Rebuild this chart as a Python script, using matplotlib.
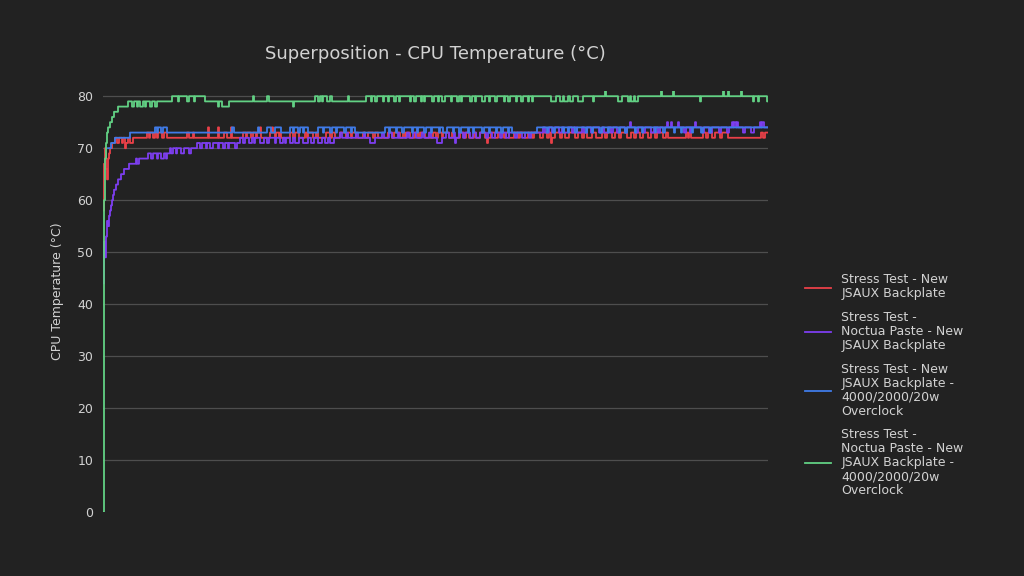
import numpy as np
import matplotlib
matplotlib.use('Agg')
import matplotlib.pyplot as plt

# number of samples along the run (one per pixel column of the plot)
N = 666

# each series written as runs of (temperature, number of samples)
red_runs = [(58, 1), (67, 1), (70, 1), (66, 1), (64, 1), (68, 1), (69, 1), (70, 2), (71, 3),
            (72, 2), (71, 2), (72, 3), (71, 1), (72, 2), (70, 1), (71, 2), (72, 2), (71, 3),
            (72, 14),
            (73, 2), (72, 1), (73, 3), (72, 2), (73, 2), (72, 1), (73, 4), (72, 2), (73, 3),
            (72, 20), (73, 2), (72, 4), (73, 1), (72, 14),
            (74, 1), (72, 9), (74, 1), (72, 5), (73, 3), (72, 4), (74, 1), (72, 11),
            (73, 3), (72, 1), (73, 4), (72, 2), (73, 3), (72, 1), (73, 3),
            (74, 1), (72, 9), (73, 2), (74, 1), (73, 2), (72, 1), (73, 3), (72, 1), (73, 1), (72, 9),
            (73, 3), (72, 2), (73, 4), (72, 6), (73, 2), (72, 1), (73, 5), (72, 3), (73, 2), (72, 8),
            (73, 4), (72, 2), (73, 3), (72, 5), (73, 6), (72, 2), (73, 3), (72, 1), (73, 4), (72, 7),
            (73, 2), (72, 3), (73, 5), (72, 2), (73, 3), (72, 10), (73, 4), (72, 2), (73, 6), (72, 3),
            (73, 2), (72, 1), (73, 4), (72, 5), (73, 3), (72, 2), (73, 5), (72, 8), (73, 3), (72, 2),
            (73, 4), (72, 1), (73, 6), (72, 3), (73, 2), (72, 6), (73, 4), (72, 2), (73, 3), (72, 5),
            (73, 2), (72, 4), (73, 5), (72, 2), (71, 1), (72, 3),
            (73, 4), (72, 3), (73, 6), (72, 2), (73, 3), (72, 5), (73, 4), (72, 2), (73, 5), (72, 3),
            (73, 4), (72, 2), (73, 6),
            (72, 3), (73, 4), (72, 2), (73, 2), (71, 1), (72, 3), (73, 5), (72, 2), (73, 3), (72, 4),
            (73, 6), (72, 3), (73, 4), (72, 2), (73, 3), (72, 5), (73, 4), (72, 6), (73, 3), (72, 2),
            (73, 5), (72, 3), (73, 4), (72, 2), (73, 6), (72, 4), (73, 3), (72, 2), (73, 4), (72, 3),
            (73, 5), (72, 3), (73, 4), (72, 2), (73, 6), (72, 3), (73, 2),
            (72, 18), (73, 2), (72, 1), (73, 2), (72, 12),
            (73, 3), (72, 2), (73, 4), (72, 3), (73, 5), (72, 2), (73, 6),
            (72, 33), (73, 2), (72, 2), (73, 4), (72, 1), (73, 3), (72, 10)]

purple_runs = [(44, 1), (52, 1), (49, 1), (53, 1), (56, 1), (55, 1), (57, 1), (58, 1), (59, 1),
               (60, 1), (61, 1), (62, 2), (63, 2), (64, 3), (65, 3), (66, 5), (67, 7),
               (68, 1), (67, 2), (68, 3), (68, 6),
               (69, 3), (68, 2), (69, 4), (68, 1), (69, 3), (68, 3), (69, 2), (68, 1), (69, 3),
               (70, 1), (69, 2), (70, 3), (69, 1), (70, 4), (69, 3), (70, 5), (69, 2), (70, 6),
               (71, 3), (70, 2), (71, 4), (70, 1), (71, 3), (70, 3), (71, 5), (70, 1), (71, 4),
               (70, 2), (71, 3), (70, 1), (71, 6), (70, 2), (71, 3),
               (72, 3), (71, 2), (72, 4), (71, 3), (72, 2), (71, 1), (72, 5), (71, 4), (72, 3),
               (71, 2), (72, 6), (71, 1), (72, 4), (71, 3), (72, 2), (71, 1), (72, 4),
               (71, 3), (72, 2), (71, 4), (72, 4), (71, 5), (72, 3), (71, 3), (72, 4), (71, 4),
               (72, 3), (71, 3), (72, 2), (71, 4),
               (72, 6), (73, 2), (72, 5), (73, 1), (72, 8), (73, 2), (72, 6), (73, 1), (72, 5),
               (71, 5),
               (72, 7), (73, 2), (72, 5), (73, 3), (72, 6), (73, 1), (72, 8), (73, 2), (72, 4),
               (73, 3), (72, 6), (73, 2), (72, 5), (73, 2), (72, 6),
               (71, 5), (72, 4), (73, 3), (72, 5), (73, 1), (71, 1),
               (72, 3), (73, 4), (72, 2), (73, 5), (72, 3), (73, 3), (72, 4), (73, 6), (72, 2),
               (73, 4), (72, 3), (73, 5), (72, 2), (73, 4), (72, 3), (73, 6), (72, 2), (73, 5),
               (72, 3), (73, 4), (72, 2), (73, 5), (73, 4),
               (73, 3), (74, 2), (73, 4), (74, 3), (73, 2), (74, 5), (73, 3), (74, 2), (73, 4),
               (74, 4), (73, 2), (74, 3), (73, 5), (74, 2), (73, 3), (74, 4), (73, 2), (74, 6),
               (73, 3), (74, 2), (73, 4), (74, 3), (73, 2), (74, 4), (73, 3), (74, 5), (73, 2),
               (74, 3), (75, 1),
               (74, 4), (73, 3), (74, 5), (73, 2), (74, 6), (73, 3), (74, 4), (73, 2), (74, 7),
               (75, 1), (74, 3), (75, 1), (74, 6), (75, 1),
               (74, 5), (73, 2), (74, 4), (73, 1), (74, 4), (75, 1),
               (74, 6), (73, 2), (74, 5), (73, 3), (74, 7), (73, 2), (74, 6), (73, 2), (74, 3),
               (75, 1), (74, 1), (75, 2), (74, 1), (75, 1),
               (74, 5), (73, 2), (74, 6), (73, 3), (74, 6), (75, 1), (74, 1), (75, 2), (74, 5)]

blue_runs = [(np.nan, 5), (70, 3), (71, 4), (72, 15), (73, 25),
             (74, 2), (73, 1), (74, 3), (73, 2), (74, 4),
             (73, 65), (74, 2), (73, 24), (74, 1), (73, 8), (74, 4), (73, 4), (74, 6), (73, 9),
             (74, 3), (73, 1), (74, 4), (73, 2), (74, 3), (73, 1), (74, 4),
             (73, 10),
             (74, 5), (73, 1), (74, 6), (73, 2), (74, 4), (73, 1), (74, 7), (73, 2), (74, 5),
             (73, 1), (74, 3),
             (73, 30),
             (74, 4), (73, 1), (74, 6), (73, 1), (74, 5), (73, 2), (74, 8), (73, 1), (74, 4),
             (73, 1), (74, 6), (73, 2), (74, 5), (73, 1), (74, 7), (73, 1), (74, 3),
             (73, 4),
             (74, 6), (73, 1), (74, 5), (73, 2), (74, 7), (73, 1), (74, 4), (73, 1), (74, 8),
             (73, 2), (74, 5), (73, 1), (74, 6), (73, 1), (74, 4), (73, 2), (74, 5), (73, 1),
             (74, 3),
             (73, 25), (74, 3),
             (74, 7), (73, 1), (74, 5), (73, 2), (74, 8), (73, 1), (74, 4), (73, 1), (74, 6),
             (73, 2), (74, 9), (73, 1), (74, 5), (73, 1), (74, 7), (73, 2), (74, 6), (73, 1),
             (74, 10), (73, 1), (74, 5), (73, 2), (74, 8), (73, 1), (74, 6), (73, 1), (74, 12),
             (73, 1), (74, 7), (73, 2), (74, 9), (73, 1), (74, 6), (73, 1), (74, 10), (73, 1),
             (74, 8), (73, 2), (74, 7), (73, 1), (74, 30)]

green_runs = [(0, 1), (60, 1), (68, 1), (71, 1), (73, 1), (74, 2), (75, 2), (76, 2), (77, 4), (78, 10),
              (79, 4), (78, 2), (79, 3), (78, 1), (79, 2), (78, 3), (79, 2), (78, 1), (79, 4),
              (78, 2), (79, 3), (78, 2), (79, 5),
              (79, 10),
              (80, 6), (79, 1), (80, 8), (79, 2), (80, 5), (79, 1), (80, 10),
              (79, 13), (78, 1), (79, 3), (78, 7), (79, 24),
              (80, 1), (79, 13), (80, 2), (79, 24), (78, 1), (79, 21),
              (80, 3), (79, 2), (80, 2), (79, 1), (80, 4), (79, 3), (80, 2), (79, 5),
              (79, 11), (80, 1), (79, 17),
              (80, 5), (79, 1), (80, 3), (79, 2), (80, 6), (79, 1), (80, 4), (79, 1), (80, 5),
              (79, 2), (80, 3), (79, 1), (80, 4),
              (80, 6), (79, 1), (80, 3), (79, 2), (80, 5), (79, 1), (80, 2), (79, 1), (80, 7),
              (79, 2), (80, 4), (79, 1), (80, 3), (79, 3), (80, 6), (79, 1), (80, 5), (79, 2),
              (80, 2), (79, 1), (80, 8), (79, 2), (80, 3), (79, 1), (80, 6), (79, 3), (80, 4),
              (79, 1), (80, 5), (79, 2), (80, 7), (79, 1), (80, 3), (79, 2), (80, 6), (79, 1),
              (80, 4), (79, 2), (80, 5), (79, 1), (80, 3), (79, 1), (80, 7),
              (80, 11), (79, 5), (80, 4), (79, 3), (80, 1), (79, 4), (80, 2), (79, 3), (80, 5),
              (79, 5), (80, 10), (79, 1), (80, 11), (81, 1), (80, 12), (79, 4), (80, 6),
              (79, 2), (80, 1), (79, 3), (80, 1), (79, 3), (80, 23), (81, 1), (80, 11), (81, 1),
              (80, 26), (79, 1), (80, 22), (81, 1), (80, 4), (81, 1), (80, 12), (81, 1),
              (80, 11), (79, 1), (80, 4), (79, 1), (80, 8), (79, 2)]

labels = ['Stress Test - New\nJSAUX Backplate',
          'Stress Test -\nNoctua Paste - New\nJSAUX Backplate',
          'Stress Test - New\nJSAUX Backplate -\n4000/2000/20w\nOverclock',
          'Stress Test -\nNoctua Paste - New\nJSAUX Backplate -\n4000/2000/20w\nOverclock']
colors = ['#ea4048', '#7d3ef0', '#3f7be8', '#62d184']
yticks = [0, 10, 20, 30, 40, 50, 60, 70, 80]


def expand(runs):
    vals = np.repeat([float(v) for v, _ in runs], [n for _, n in runs])
    if len(vals) < N:
        vals = np.concatenate([vals, np.full(N - len(vals), vals[-1])])
    return vals[:N]


bg = '#222222'
txt = '#d2d2d2'

fig = plt.figure(figsize=(10.24, 5.76), dpi=100, facecolor=bg)
ax = fig.add_axes([103 / 1024, 64 / 576, 665 / 1024, 421 / 576])
ax.set_facecolor(bg)

x = np.arange(N)
handles = []
for i, runs in enumerate([red_runs, purple_runs, blue_runs, green_runs]):
    h, = ax.plot(x, expand(runs), color=colors[i], lw=1.3, drawstyle='steps-post',
                 zorder=3 + i, label=labels[i])
    handles.append(h)

ax.set_xlim(0, N - 1)
ax.set_ylim(0, 81)
ax.set_yticks(yticks)
ax.set_yticklabels([str(t) for t in yticks])
ax.set_xticks([])
ax.tick_params(axis='y', length=0, pad=7, labelcolor=txt, labelsize=9)
for t in yticks[1:]:
    ax.axhline(t, color='#4e4e4e', lw=0.9, zorder=1)
for s in ax.spines.values():
    s.set_visible(False)

fig.text(0.425, 0.906, 'Superposition - CPU Temperature (°C)', ha='center', va='center',
         fontsize=13, color=txt)
fig.text(0.0566, 0.495, 'CPU Temperature (°C)', rotation=90, ha='center', va='center',
         fontsize=9, color=txt)

leg = fig.legend(handles, labels, loc='center left', bbox_to_anchor=(805 / 1024, 0.331),
                 frameon=False, fontsize=9, handlelength=2.1, handletextpad=0.8,
                 labelspacing=0.85, borderpad=0, borderaxespad=0, labelcolor=txt)
for t in leg.get_texts():
    t.set_linespacing(1.1)

fig.savefig('out.png', dpi=100, facecolor=bg)
